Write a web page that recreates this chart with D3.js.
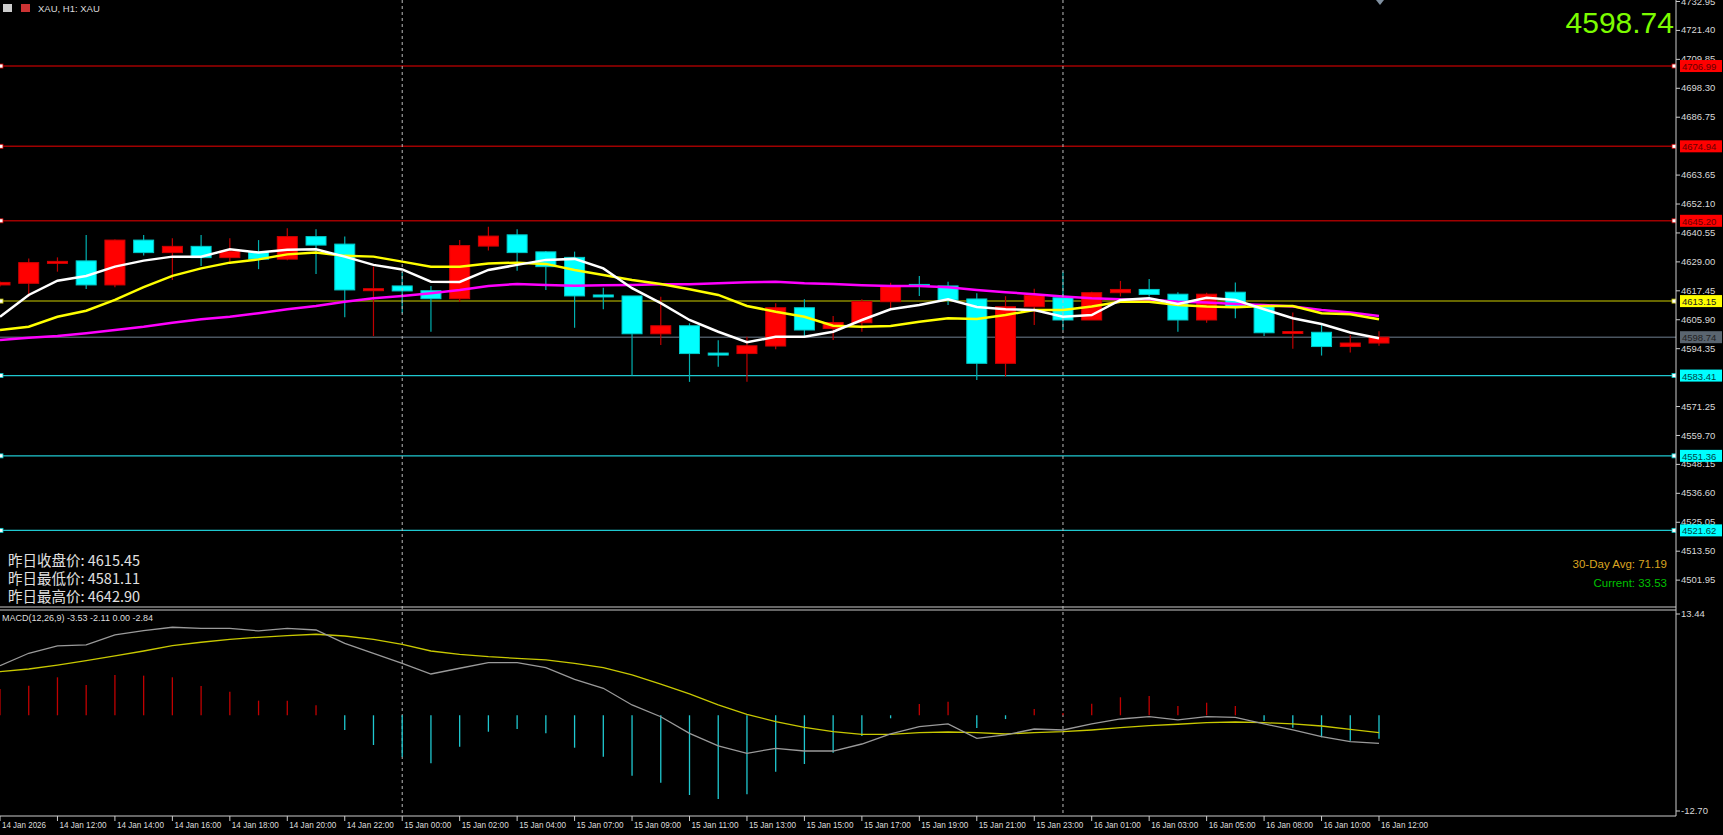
<!DOCTYPE html>
<html><head><meta charset="utf-8">
<script src="https://cdn.jsdelivr.net/npm/d3@7"></script>
<style>html,body{margin:0;padding:0;background:#000;overflow:hidden}svg{display:block}</style>
</head><body>
<svg id="c" width="1723" height="835"></svg>
<script>
const timeLabels=["14 Jan 2026","14 Jan 12:00","14 Jan 14:00","14 Jan 16:00","14 Jan 18:00","14 Jan 20:00","14 Jan 22:00","15 Jan 00:00","15 Jan 02:00","15 Jan 04:00","15 Jan 07:00","15 Jan 09:00","15 Jan 11:00","15 Jan 13:00","15 Jan 15:00","15 Jan 17:00","15 Jan 19:00","15 Jan 21:00","15 Jan 23:00","16 Jan 01:00","16 Jan 03:00","16 Jan 05:00","16 Jan 08:00","16 Jan 10:00","16 Jan 12:00"];
const opens=[4619.6,4620.25,4628.3,4629.2,4619.6,4637.5,4632.5,4635.0,4630.5,4632.5,4629.9,4638.9,4635.9,4617.6,4619.2,4617.3,4614.1,4635.1,4639.6,4632.8,4630.6,4615.6,4615.2,4600.1,4603.3,4592.4,4592.2,4595.2,4610.5,4602.2,4604.5,4612.9,4619.8,4619.2,4614.0,4588.3,4610.9,4614.5,4605.6,4616.5,4617.8,4615.9,4605.6,4616.7,4611.4,4600.6,4600.7,4595.0,4596.4];
const closes=[4620.6,4628.5,4629.0,4619.6,4637.5,4632.5,4635.0,4630.5,4633.1,4629.9,4638.9,4635.5,4617.6,4618.1,4617.2,4614.1,4635.3,4639.1,4632.5,4626.9,4615.2,4615.2,4600.1,4603.3,4592.2,4592.2,4595.3,4610.5,4601.6,4604.6,4613.0,4619.2,4619.6,4613.6,4588.3,4610.9,4615.5,4605.6,4616.5,4617.8,4615.8,4605.6,4615.9,4611.0,4600.5,4601.0,4595.0,4596.4,4598.74];
const highs=[4621.0,4630.2,4630.6,4639.5,4637.7,4639.5,4638.2,4639.5,4638.2,4637.5,4642.2,4641.8,4638.9,4626.9,4624.9,4619.2,4637.5,4642.8,4641.8,4633.1,4632.9,4618.5,4615.2,4614.9,4604.3,4597.5,4598.9,4612.3,4613.9,4607.2,4613.9,4620.5,4623.2,4620.9,4616.3,4615.1,4618.1,4624.9,4616.9,4621.2,4622.0,4616.7,4616.5,4620.6,4611.4,4608.6,4603.6,4599.6,4601.1];
const lows=[4619.0,4614.9,4624.9,4618.0,4618.7,4631.3,4621.6,4627.2,4628.9,4625.9,4629.5,4624.0,4606.7,4599.2,4608.3,4600.9,4612.9,4633.3,4625.3,4617.6,4602.5,4609.9,4583.4,4595.6,4580.9,4586.9,4580.9,4593.9,4598.9,4597.6,4600.9,4610.3,4615.2,4611.6,4581.6,4583.0,4603.6,4601.6,4605.6,4615.0,4615.0,4600.9,4604.5,4606.3,4599.2,4594.1,4591.4,4592.6,4595.3];
const maFast=[4606.9,4615.6,4621.3,4623.2,4626.9,4629.3,4630.9,4630.9,4633.8,4632.5,4633.6,4633.8,4630.9,4627.6,4625.8,4620.9,4620.8,4625.6,4627.6,4629.6,4630.0,4626.2,4618.3,4612.3,4605.6,4600.9,4596.7,4598.9,4598.9,4600.9,4605.6,4609.9,4611.6,4613.9,4610.8,4609.9,4609.6,4606.9,4607.6,4613.6,4614.3,4612.0,4614.5,4613.6,4609.9,4606.3,4604.0,4600.6,4598.3];
const maMid=[4601.6,4602.9,4606.9,4609.3,4613.6,4618.7,4623.2,4626.2,4628.5,4629.8,4631.8,4632.5,4631.2,4630.9,4628.9,4626.9,4626.9,4628.2,4628.5,4628.0,4625.6,4623.6,4621.6,4620.0,4617.9,4615.6,4611.2,4608.9,4606.9,4603.3,4602.9,4603.2,4604.9,4606.3,4606.0,4607.6,4609.6,4609.6,4611.0,4612.9,4612.9,4611.6,4611.0,4610.7,4611.2,4611.2,4608.3,4607.9,4605.9];
const maSlow=[4597.6,4598.5,4599.2,4600.3,4601.6,4602.9,4604.5,4605.9,4606.9,4608.3,4609.9,4611.2,4612.9,4614.3,4615.2,4616.3,4617.6,4619.2,4620.0,4619.6,4619.3,4619.5,4619.6,4619.9,4619.9,4620.3,4620.7,4620.9,4620.3,4620.0,4619.5,4619.2,4619.2,4618.7,4617.6,4616.7,4615.9,4615.0,4614.3,4613.9,4613.8,4612.9,4612.6,4612.0,4611.6,4611.0,4609.6,4608.6,4607.2];
const hist=[3.5,3.93,5.04,4.02,5.35,5.26,5.04,3.89,3.13,1.94,1.94,1.33,-1.95,-3.94,-5.49,-6.37,-4.17,-2.18,-1.82,-2.39,-4.30,-5.49,-8.01,-8.94,-10.58,-11.11,-10.48,-7.48,-6.46,-4.96,-2.75,-0.4,1.5,1.8,-1.69,-0.5,0.84,0.3,1.54,2.39,2.56,1.23,1.67,1.23,-0.72,-1.65,-2.92,-3.37,-3.11];
const macdLine=[6.58,8.23,9.20,9.33,10.66,11.23,11.68,11.54,11.54,11.19,11.54,11.32,9.55,8.23,6.90,5.48,6.24,6.98,6.98,6.32,4.78,3.58,1.37,-0.19,-2.39,-4.07,-5.04,-4.38,-4.74,-4.74,-3.81,-2.48,-1.51,-1.15,-3.05,-2.61,-1.82,-1.95,-1.15,-0.49,-0.19,-0.62,-0.19,-0.27,-1.15,-1.95,-2.84,-3.50,-3.72];
const signalLine=[5.79,6.14,6.67,7.25,7.87,8.53,9.24,9.69,10.08,10.35,10.56,10.75,10.52,10.08,9.42,8.53,8.09,7.78,7.56,7.34,6.90,6.32,5.35,4.15,2.83,1.37,0.13,-0.85,-1.59,-2.18,-2.52,-2.52,-2.31,-2.22,-2.31,-2.48,-2.31,-2.18,-1.95,-1.65,-1.38,-1.19,-0.98,-0.89,-0.98,-1.15,-1.42,-1.86,-2.31];
const priceTicks=[4732.95,4721.40,4709.85,4698.30,4686.75,4663.65,4652.10,4640.55,4629.00,4617.45,4605.90,4594.35,4571.25,4559.70,4548.15,4536.60,4525.05,4513.50,4501.95];
const levelsRed=[4706.99,4674.94,4645.20];
const levelsCyan=[4583.41,4551.36,4521.62];
const levelYellow=4613.15, lastPrice=4598.74;
const infoLines=["昨日收盘价: 4615.45","昨日最低价: 4581.11","昨日最高价: 4642.90"];

const svg=d3.select("#c");
const AX=1676;
const x=d3.scaleLinear().domain([0,48]).range([0,1379]);
const y=d3.scaleLinear().domain([4732.95,4513.5]).range([1,550.7]);
const ym=d3.scaleLinear().domain([13.44,-12.70]).range([614,811]);
const idx=d3.range(opens.length);
const font="'Liberation Sans Narrow','Liberation Sans',Arial,sans-serif";

svg.append("rect").attr("width",1723).attr("height",835).attr("fill","#000");
const main=svg.append("g");
svg.append("defs").append("clipPath").attr("id","pc").append("rect").attr("x",0).attr("y",0).attr("width",AX).attr("height",606);
const pg=main.append("g").attr("clip-path","url(#pc)");

[14,37].forEach(i=>{svg.append("line").attr("x1",x(i)).attr("x2",x(i)).attr("y1",0).attr("y2",816).attr("stroke","#bbb").attr("stroke-dasharray","3,3").attr("stroke-width",1);});

levelsRed.forEach(v=>pg.append("line").attr("x1",0).attr("x2",AX).attr("y1",y(v)).attr("y2",y(v)).attr("stroke","#a00000").attr("stroke-width",1.5));
levelsCyan.forEach(v=>pg.append("line").attr("x1",0).attr("x2",AX).attr("y1",y(v)).attr("y2",y(v)).attr("stroke","#1fc8d0").attr("stroke-width",1.2));
pg.append("line").attr("x1",0).attr("x2",AX).attr("y1",y(levelYellow)).attr("y2",y(levelYellow)).attr("stroke","#8a8a00").attr("stroke-width",1.5);
pg.append("line").attr("x1",0).attr("x2",AX).attr("y1",y(lastPrice)).attr("y2",y(lastPrice)).attr("stroke","#4a5560").attr("stroke-width",1.5);
levelsRed.concat(levelsCyan,[levelYellow]).forEach(v=>{
  [1,AX-2].forEach(px=>pg.append("rect").attr("x",px-2).attr("y",y(v)-2).attr("width",4).attr("height",4).attr("fill","#fff").attr("stroke",v===levelYellow?"#cc0":(levelsRed.includes(v)?"#c00":"#0cc")).attr("stroke-width",0.8));
});

const up=i=>closes[i]>=opens[i];
pg.selectAll(".wick").data(idx).join("line").attr("x1",i=>x(i)).attr("x2",i=>x(i)).attr("y1",i=>y(highs[i])).attr("y2",i=>y(lows[i]))
  .attr("stroke",i=>up(i)?"#c00000":"#00b0b0").attr("stroke-width",1.2);
pg.selectAll(".body").data(idx).join("rect").attr("x",i=>x(i)-10).attr("width",20)
  .attr("y",i=>y(Math.max(opens[i],closes[i]))).attr("height",i=>Math.max(2,Math.abs(y(opens[i])-y(closes[i]))))
  .attr("fill",i=>up(i)?"#ff0000":"#00ffff").attr("stroke",i=>up(i)?"#d00000":"#00c8c8").attr("stroke-width",1);

const ln=(arr)=>d3.line().x((d,i)=>x(i)).y(d=>y(d))(arr);
pg.append("path").attr("d",ln(maSlow)).attr("fill","none").attr("stroke","#ff00ff").attr("stroke-width",2.5);
pg.append("path").attr("d",ln(maMid)).attr("fill","none").attr("stroke","#ffff00").attr("stroke-width",2.5);
pg.append("path").attr("d",ln(maFast)).attr("fill","none").attr("stroke","#ffffff").attr("stroke-width",2.5);

svg.append("line").attr("x1",AX).attr("x2",AX).attr("y1",0).attr("y2",816).attr("stroke","#ccc");
const axG=svg.append("g").attr("transform",`translate(${AX},0)`);
axG.call(d3.axisRight(y).tickValues(priceTicks).tickSize(4).tickFormat(d3.format(".2f")));
axG.select(".domain").remove();
axG.selectAll(".tick line").attr("stroke","#ccc");
axG.selectAll(".tick text").attr("fill","#d8d8d8").attr("font-size",9.5).attr("font-family",font).attr("x",5);
const tag=(v,bg,fg)=>{const g=svg.append("g");g.append("rect").attr("x",AX+4).attr("y",y(v)-6).attr("width",42).attr("height",12).attr("fill",bg);
  g.append("text").attr("x",AX+6).attr("y",y(v)+4).text(v.toFixed(2)).attr("font-size",9.5).attr("font-family",font).attr("fill",fg);};
levelsRed.forEach(v=>tag(v,"#ff0000","#600"));
levelsCyan.forEach(v=>tag(v,"#00ffff","#044"));
tag(levelYellow,"#ffff00","#222");
tag(lastPrice,"#5a6570","#222");

svg.append("line").attr("x1",0).attr("x2",AX).attr("y1",607).attr("y2",607).attr("stroke","#ccc");
svg.append("line").attr("x1",0).attr("x2",AX).attr("y1",610).attr("y2",610).attr("stroke","#ccc");
svg.append("line").attr("x1",0).attr("x2",AX).attr("y1",816).attr("y2",816).attr("stroke","#ccc");

const mg=svg.append("g");
mg.selectAll(".h").data(idx).join("line").attr("x1",i=>x(i)).attr("x2",i=>x(i)).attr("y1",ym(0)).attr("y2",i=>ym(hist[i]))
  .attr("stroke",i=>hist[i]>=0?"#c00000":"#1fc8d0").attr("stroke-width",1.3);
const lm=(arr)=>d3.line().x((d,i)=>x(i)).y(d=>ym(d))(arr);
mg.append("path").attr("d",lm(signalLine)).attr("fill","none").attr("stroke","#c8c800").attr("stroke-width",1.3);
mg.append("path").attr("d",lm(macdLine)).attr("fill","none").attr("stroke","#9a9a9a").attr("stroke-width",1.3);
[13.44,-12.70].forEach(v=>{svg.append("line").attr("x1",AX).attr("x2",AX+4).attr("y1",ym(v)).attr("y2",ym(v)).attr("stroke","#ccc");
  svg.append("text").attr("x",AX+5).attr("y",ym(v)+3).text(v.toFixed(2)).attr("fill","#d8d8d8").attr("font-size",9.5).attr("font-family",font);});
svg.append("text").attr("x",2).attr("y",621).text("MACD(12,26,9) -3.53 -2.11 0.00 -2.84").attr("fill","#ddd").attr("font-size",9).attr("font-family",font);

timeLabels.forEach((t,k)=>{const xx=x(k*2);
  svg.append("line").attr("x1",xx).attr("x2",xx).attr("y1",816).attr("y2",821).attr("stroke","#ccc");
  svg.append("text").attr("x",xx+2).attr("y",828).text(t).attr("fill","#ddd").attr("font-size",9).attr("font-family",font)
    .attr("textLength",k===0?44:47).attr("lengthAdjust","spacingAndGlyphs");});

svg.append("text").attr("x",1674).attr("y",33).attr("text-anchor","end").text(lastPrice.toFixed(2)).attr("fill","#7cfc00").attr("font-size",30).attr("font-family","'Liberation Sans',Arial,sans-serif");
const hd=svg.append("g");
hd.append("rect").attr("x",3).attr("y",4).attr("width",9).attr("height",8).attr("fill","#ccc");
hd.append("rect").attr("x",21).attr("y",4).attr("width",9).attr("height",8).attr("fill","#c33");
hd.append("text").attr("x",38).attr("y",12).text("XAU, H1:  XAU").attr("fill","#ddd").attr("font-size",9.5).attr("font-family",font);
infoLines.forEach((t,k)=>svg.append("text").attr("x",8).attr("y",566+k*18).text(t).attr("fill","#e0e0e0").attr("font-size",14.5).attr("font-family","'Noto Sans CJK SC',sans-serif"));
svg.append("text").attr("x",1667).attr("y",568).attr("text-anchor","end").text("30-Day Avg: 71.19").attr("fill","#daa520").attr("font-size",11.5).attr("font-family","'Liberation Sans',Arial");
svg.append("text").attr("x",1667).attr("y",587).attr("text-anchor","end").text("Current: 33.53").attr("fill","#00c000").attr("font-size",11.5).attr("font-family","'Liberation Sans',Arial");
svg.append("path").attr("d","M1376,0 L1384,0 L1380,5 Z").attr("fill","#8090a0");
</script>
</body></html>
